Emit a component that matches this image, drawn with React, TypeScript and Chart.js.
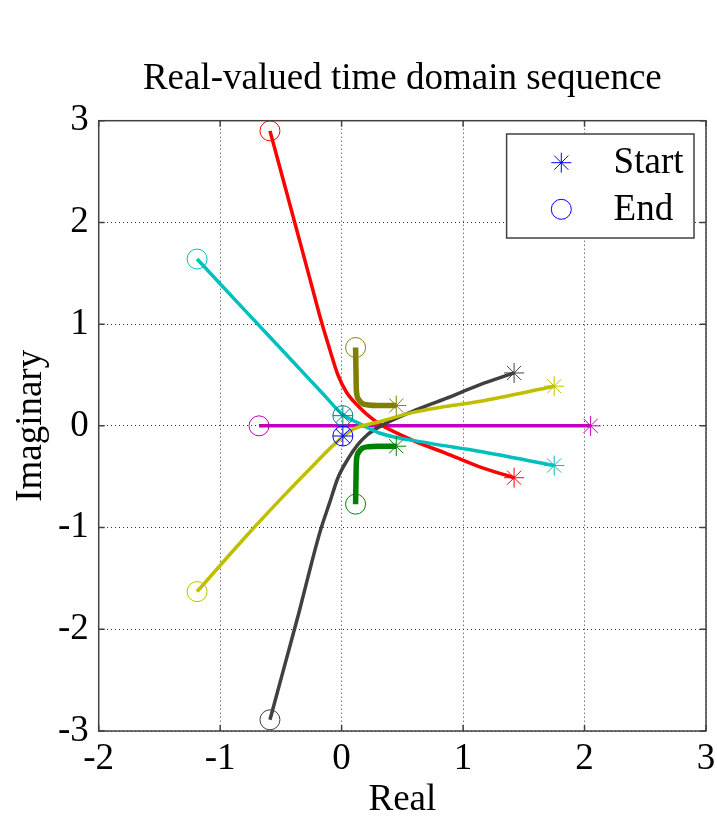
import React, { useEffect, useRef } from 'react';
import { Chart, registerables } from 'chart.js';

Chart.register(...registerables);

const FONT = "'Liberation Serif', 'Times New Roman', serif";

const titleText = 'Real-valued time domain sequence';
const xLabel = 'Real';
const yLabel = 'Imaginary';
const legendLabels = ['Start', 'End'];
const xTicks = [-2, -1, 0, 1, 2, 3];
const yTicks = [-3, -2, -1, 0, 1, 2, 3];

// every path runs from its start (*) to its end (o)
const magentaRe = [2.05, -0.68];
const magentaIm = [0.0, 0.0];

const redRe = [1.42, 1.13, 0.86, 0.58, 0.31, 0.22, 0.14, 0.04, -0.03, -0.10, -0.17, -0.24, -0.35, -0.47, -0.59];
const redIm = [-0.51, -0.40, -0.27, -0.14, 0.02, 0.10, 0.19, 0.33, 0.50, 0.76, 1.04, 1.35, 1.84, 2.37, 2.90];

const grayRe = [1.42, 1.13, 0.86, 0.58, 0.31, 0.21, 0.13, 0.05, -0.03, -0.10, -0.18, -0.25, -0.35, -0.47, -0.59];
const grayIm = [0.52, 0.40, 0.27, 0.14, -0.01, -0.09, -0.19, -0.33, -0.51, -0.76, -1.05, -1.36, -1.83, -2.36, -2.89];

const cyanRe = [1.75, 1.13, 0.72, 0.31, 0.15, 0.0, -0.15, -0.40, -0.80, -1.19];
const cyanIm = [-0.39, -0.25, -0.17, -0.07, 0.02, 0.12, 0.31, 0.63, 1.14, 1.64];

const yellowRe = [1.75, 1.13, 0.85, 0.58, 0.31, 0.10, -0.05, -0.21, -0.51, -0.79, -1.19];
const yellowIm = [0.39, 0.24, 0.19, 0.13, 0.04, -0.03, -0.17, -0.36, -0.73, -1.09, -1.63];

const oliveRe = [0.45, 0.30, 0.22, 0.17, 0.14, 0.125, 0.12, 0.115];
const oliveIm = [0.20, 0.20, 0.205, 0.22, 0.26, 0.31, 0.40, 0.77];

const greenRe = [0.45, 0.30, 0.22, 0.17, 0.14, 0.125, 0.12, 0.115];
const greenIm = [-0.20, -0.20, -0.205, -0.22, -0.26, -0.31, -0.40, -0.77];

const tealRe = [0.01, 0.01];
const tealIm = [0.1, 0.1];

const blueRe = [0.01, 0.01];
const blueIm = [-0.1, -0.1];

// first entry is drawn on top
const series = [
  { re: blueRe, im: blueIm, color: '#0000ff', width: 3.5, smooth: false },
  { re: tealRe, im: tealIm, color: '#008080', width: 3.5, smooth: false },
  { re: greenRe, im: greenIm, color: '#008000', width: 5.5, smooth: true },
  { re: oliveRe, im: oliveIm, color: '#808000', width: 5.5, smooth: true },
  { re: yellowRe, im: yellowIm, color: '#bfbf00', width: 3.5, smooth: true },
  { re: cyanRe, im: cyanIm, color: '#00bfbf', width: 3.5, smooth: true },
  { re: grayRe, im: grayIm, color: '#404040', width: 3.5, smooth: true },
  { re: redRe, im: redIm, color: '#ff0000', width: 3.5, smooth: true },
  { re: magentaRe, im: magentaIm, color: '#bf00bf', width: 3.5, smooth: false },
];

const FS = 37;

function drawStar(ctx: CanvasRenderingContext2D, x: number, y: number, r: number) {
  ctx.beginPath();
  for (let k = 0; k < 4; k++) {
    const a = (k * Math.PI) / 4;
    ctx.moveTo(x - r * Math.cos(a), y - r * Math.sin(a));
    ctx.lineTo(x + r * Math.cos(a), y + r * Math.sin(a));
  }
  ctx.stroke();
}

const framePlugin = {
  id: 'frame',
  afterDraw(chart: any) {
    const { ctx, chartArea: a, scales } = chart;
    ctx.save();
    ctx.strokeStyle = '#404040';
    ctx.lineWidth = 1.5;
    ctx.strokeRect(a.left, a.top, a.right - a.left, a.bottom - a.top);
    const tl = 6;
    ctx.beginPath();
    scales.x.ticks.forEach((t: any) => {
      const px = scales.x.getPixelForValue(t.value);
      ctx.moveTo(px, a.bottom);
      ctx.lineTo(px, a.bottom - tl);
      ctx.moveTo(px, a.top);
      ctx.lineTo(px, a.top + tl);
    });
    scales.y.ticks.forEach((t: any) => {
      const py = scales.y.getPixelForValue(t.value);
      ctx.moveTo(a.left, py);
      ctx.lineTo(a.left + tl, py);
      ctx.moveTo(a.right, py);
      ctx.lineTo(a.right - tl, py);
    });
    ctx.stroke();

    // legend box
    const bw = 187.4;
    const bh = 104;
    const bx = a.right - 12 - bw;
    const by = a.top + 13.3;
    ctx.fillStyle = '#ffffff';
    ctx.fillRect(bx, by, bw, bh);
    ctx.strokeStyle = '#404040';
    ctx.lineWidth = 1.5;
    ctx.strokeRect(bx, by, bw, bh);
    ctx.font = `${FS}px ${FONT}`;
    ctx.textAlign = 'left';
    ctx.textBaseline = 'middle';
    legendLabels.forEach((lab, i) => {
      const my = by + 28.7 + i * 46.6;
      const mx = bx + 54.7;
      ctx.strokeStyle = '#0000ff';
      ctx.lineWidth = 1;
      if (i === 0) {
        drawStar(ctx, mx, my, 10);
      } else {
        ctx.beginPath();
        ctx.arc(mx, my, 10, 0, Math.PI * 2);
        ctx.stroke();
      }
      ctx.fillStyle = '#000000';
      ctx.fillText(lab, bx + 107, my + 1);
    });
    ctx.restore();
  },
};

export default function App() {
  const ref = useRef<HTMLCanvasElement | null>(null);

  useEffect(() => {
    const canvas = ref.current;
    if (!canvas) return;
    const datasets = series.map((s) => {
      const last = s.re.length - 1;
      return {
        data: s.re.map((x, i) => ({ x, y: s.im[i] })),
        showLine: true,
        borderColor: s.color,
        borderWidth: s.width,
        tension: s.smooth ? 0.4 : 0,
        cubicInterpolationMode: s.smooth ? 'monotone' : 'default',
        fill: false,
        clip: false as any,
        pointStyle: (c: any) => (c.dataIndex === 0 ? 'star' : c.dataIndex === last ? 'circle' : false),
        pointRadius: (c: any) => (c.dataIndex === 0 || c.dataIndex === last ? 10 : 0),
        pointBorderWidth: 1,
        pointBorderColor: s.color,
        pointBackgroundColor: 'rgba(0,0,0,0)',
        pointHoverRadius: 0,
      };
    });

    const tickFont = { family: FONT, size: FS, lineHeight: 1 };
    const chart = new Chart(canvas, {
      type: 'scatter',
      data: { datasets },
      plugins: [framePlugin],
      options: {
        animation: false,
        responsive: false,
        devicePixelRatio: 1,
        events: [],
        layout: { padding: { left: 0, right: 8.3, top: 0, bottom: 0 } },
        plugins: {
          legend: { display: false },
          tooltip: { enabled: false },
          title: {
            display: true,
            text: titleText,
            fullSize: false,
            color: '#000000',
            font: { family: FONT, size: FS, weight: 'normal', lineHeight: 1.2 },
            padding: { top: 57.4, bottom: 18.9 },
          },
        },
        scales: {
          x: {
            type: 'linear',
            min: xTicks[0],
            max: xTicks[xTicks.length - 1],
            afterBuildTicks: (s: any) => {
              s.ticks = xTicks.map((v) => ({ value: v }));
            },
            ticks: { font: tickFont, color: '#000000', padding: 10, maxRotation: 0, autoSkip: false },
            grid: { color: '#303030', lineWidth: 1, drawTicks: false },
            border: { display: false, dash: [1, 3] },
            title: { display: true, text: xLabel, color: '#000000', font: { family: FONT, size: FS, lineHeight: 0.95 }, padding: { top: 0, bottom: 0 } },
            afterFit: (s: any) => {
              s.height = 87;
              s.paddingLeft = 0;
              s.paddingRight = 0;
            },
          },
          y: {
            type: 'linear',
            min: yTicks[0],
            max: yTicks[yTicks.length - 1],
            afterBuildTicks: (s: any) => {
              s.ticks = yTicks.map((v) => ({ value: v }));
            },
            ticks: { font: tickFont, color: '#000000', padding: 10, autoSkip: false },
            grid: { color: '#303030', lineWidth: 1, drawTicks: false },
            border: { display: false, dash: [1, 3] },
            title: { display: true, text: yLabel, color: '#000000', font: tickFont, padding: { top: 12.5, bottom: 0 } },
            afterFit: (s: any) => {
              s.width = 98.7;
              s.paddingTop = 0;
              s.paddingBottom = 0;
            },
          },
        },
      } as any,
    });
    return () => chart.destroy();
  }, []);

  return (
    <div style={{ position: 'absolute', left: 0, top: 0, width: 717, height: 818, background: '#ffffff' }}>
      <canvas ref={ref} width={717} height={818} style={{ display: 'block', width: 717, height: 818 }} />
    </div>
  );
}
